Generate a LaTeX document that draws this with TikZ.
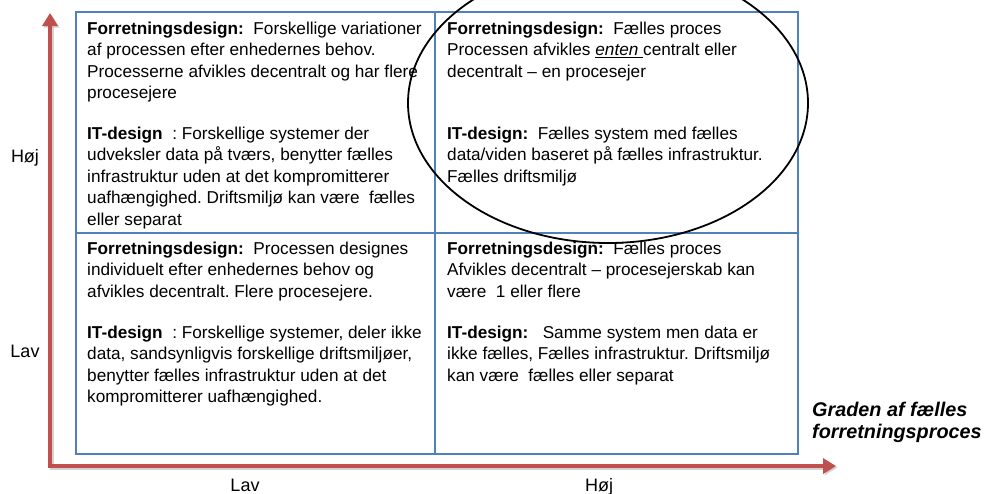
\documentclass[tikz,border=0pt]{standalone}
\usepackage{fontspec}
\setmainfont{Liberation Sans}
\usetikzlibrary{arrows.meta,shapes.geometric}
\definecolor{gridblue}{RGB}{79,129,189}
\definecolor{axisred}{RGB}{192,80,77}
\frenchspacing
\tikzset{
  cellline/.style={draw=gridblue, line width=2.8pt},
  celltext/.style={anchor=north west, inner sep=0pt, align=left,
    font=\fontsize{17.2}{21.5}\selectfont},
  axislabel/.style={anchor=base, inner sep=0pt, font=\fontsize{18}{21}\selectfont},
  axisline/.style={draw=axisred, line width=4pt,
    {Triangle[length=13pt,width=15pt]}-{Triangle[length=13pt,width=15pt]}},
  axisshadow/.style={draw=black!35, opacity=0.5, line width=4pt,
    {Triangle[length=13pt,width=15pt]}-{Triangle[length=13pt,width=15pt]}},
  circleline/.style={draw=black, line width=1.8pt}
}
\begin{document}
\begin{tikzpicture}[x=1pt,y=-1pt]
\useasboundingbox (0,0) rectangle (985,493);
\clip (0,0) rectangle (985,493);
% axes
\coordinate (ytip) at (50,13);
\coordinate (corner) at (50,466);
\coordinate (xtip) at (836,466);
\coordinate (ytips) at (51.5,14.5);
\coordinate (corners) at (51.5,467.5);
\coordinate (xtips) at (837.5,467.5);
\draw[axisshadow] (ytips) -- (corners) -- (xtips);
\draw[axisline, line join=miter] (ytip) -- (corner) -- (xtip);
% grid
\coordinate (tl) at (76,12);
\coordinate (br) at (798,454);
\coordinate (tm) at (435,12);
\coordinate (bm) at (435,454);
\coordinate (ml) at (76,233);
\coordinate (mr) at (798,233);
\draw[cellline] (tl) rectangle (br);
\draw[cellline] (tm) -- (bm);
\draw[cellline] (ml) -- (mr);
% cell texts
\node[celltext] (c11) at (87,21.6) {\textbf{Forretningsdesign:}\ \ Forskellige variationer\\
af processen efter enhedernes behov.\\
Processerne afvikles decentralt og har flere\\
procesejere\\[19pt]
\textbf{IT-design}\ \ : Forskellige systemer der\\
udveksler data på tværs, benytter fælles\\
infrastruktur uden at det kompromitterer\\
uafhængighed. Driftsmiljø kan være\ \ fælles\\
eller separat};
\node[celltext] (c12) at (447,21.6) {\textbf{Forretningsdesign:}\ \ Fælles proces\\
Processen afvikles \underline{\textit{enten}\ }centralt eller\\
decentralt – en procesejer\\[40.5pt]
\textbf{IT-design:}\ \ Fælles system med fælles\\
data/viden baseret på fælles infrastruktur.\\
Fælles driftsmiljø};
\node[celltext] (c21) at (87,241.6) {\textbf{Forretningsdesign:}\ \ Processen designes\\
individuelt efter enhedernes behov og\\
afvikles decentralt. Flere procesejere.\\[19.5pt]
\textbf{IT-design}\ \ : Forskellige systemer, deler ikke\\
data, sandsynligvis forskellige driftsmiljøer,\\
benytter fælles infrastruktur uden at det\\
kompromitterer uafhængighed.};
\node[celltext] (c22) at (447,241.6) {\textbf{Forretningsdesign:}\ \ Fælles proces\\
Afvikles decentralt – procesejerskab kan\\
være\ \ 1 eller flere\\[19.5pt]
\textbf{IT-design:}\ \ \ Samme system men data er\\
ikke fælles, Fælles infrastruktur. Driftsmiljø\\
kan være\ \ fælles eller separat};
% ellipse
\node[circleline, ellipse, minimum width=400pt, minimum height=280pt, inner sep=0pt] (oval) at (608,103) {};
% axis labels
\node[axislabel] (yhigh) at (25,162) {Høj};
\node[axislabel] (ylow) at (25,357) {Lav};
\node[axislabel] (xlow) at (245,491) {Lav};
\node[axislabel] (xhigh) at (599,491) {Høj};
\node[anchor=north west, inner sep=0pt, align=left,
  font=\fontsize{19.8}{22.5}\selectfont\bfseries\itshape] (xtitle) at (812,401.5)
  {Graden af fælles\\forretningsproces};
\end{tikzpicture}
\end{document}
